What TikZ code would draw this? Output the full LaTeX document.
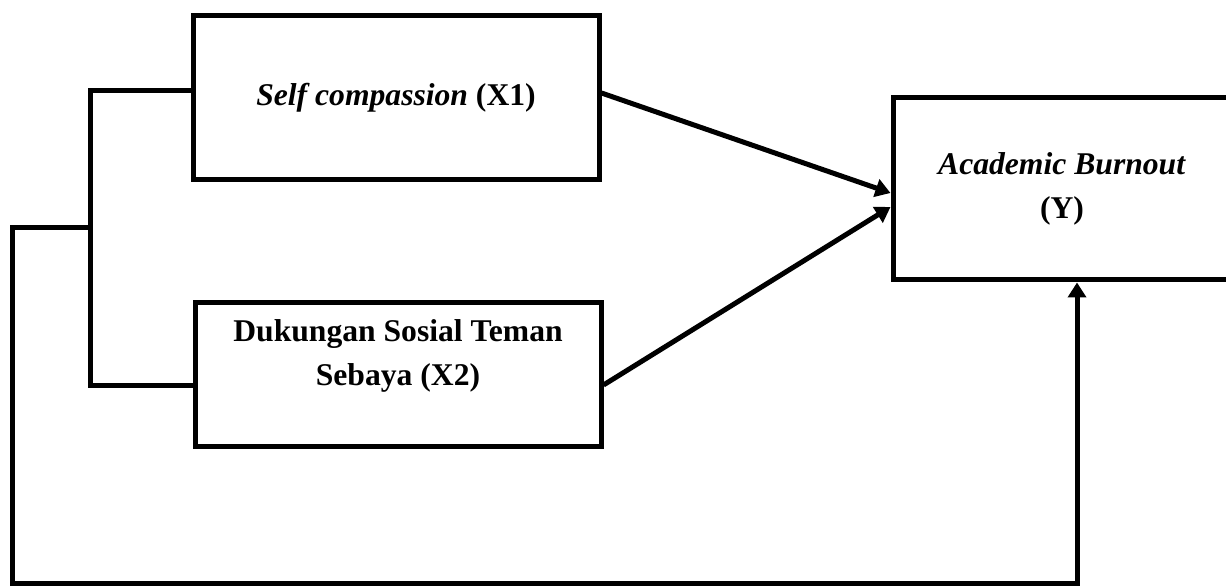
\documentclass[tikz,border=0pt]{standalone}
\usepackage{fontspec}
\setmainfont{Liberation Serif}
\usetikzlibrary{arrows.meta}

\begin{document}
\begin{tikzpicture}[
  var/.style={draw, line width=0.1cm, align=center, inner sep=0pt,
    font=\fontsize{18}{25}\selectfont\bfseries},
  link/.style={line width=0.1cm},
  arr/.style={link, -{Triangle[length=0.3cm,width=0.36cm]}}]
\useasboundingbox (0,0) rectangle (24.52,11.72);

%VARIABLES
\pgfmathsetmacro{\bw}{8.12}
  \node[var, minimum width=\bw cm, minimum height=3.28cm] (x1) at (7.92,9.76) {\textit{Self compassion} (X1)};
  \node[var, minimum width=\bw cm, minimum height=2.86cm] (x2) at (7.96,4.23) {Dukungan Sosial Teman\\Sebaya (X2)\\\mbox{}};
  \node[var, minimum width=6.76cm, minimum height=3.64cm] (y) at (21.24,7.94) {\textit{Academic Burnout}\\(Y)};

%BRACKET
  \coordinate (top) at (1.8,9.9);
  \coordinate (bot) at (1.8,4.0);
  \coordinate (jn) at (1.8,7.16);
  \draw[link] (x1.west |- top) -- (top) -- (bot) -- (x2.west |- bot);

%LOOP
  \coordinate (lc) at (0.24,7.16);
  \coordinate (bl) at (0.24,0.06);
  \coordinate (br) at (21.54,0.06);
  \draw[arr] (jn) -- (lc) -- (bl) -- (br) -- (br |- y.south);

%ARROWS
  \draw[arr] ([yshift=0.1cm]x1.east) -- ([yshift=-0.08cm]y.west);
  \draw[arr] ([yshift=-0.21cm]x2.east) -- ([yshift=-0.36cm]y.west);
\end{tikzpicture}
\end{document}
